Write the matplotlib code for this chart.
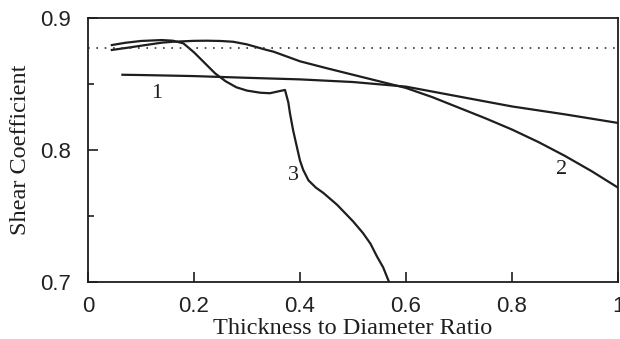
import numpy as np
import matplotlib.pyplot as plt
from matplotlib.ticker import MultipleLocator

# shear coefficient vs thickness/diameter for three cases
x1 = [0.065, 0.1, 0.2, 0.3, 0.4, 0.5, 0.6, 0.7, 0.8, 0.9, 1.0]
y1 = [0.857, 0.8568, 0.856, 0.8547, 0.8535, 0.8515, 0.848, 0.8405, 0.833, 0.827, 0.8205]

x2 = [0.045, 0.07, 0.1, 0.139, 0.16, 0.2, 0.224, 0.25, 0.274, 0.3, 0.337, 0.35,
      0.4, 0.45, 0.5, 0.55, 0.6, 0.65, 0.7, 0.75, 0.8, 0.85, 0.9, 0.95, 1.0]
y2 = [0.8758, 0.8772, 0.8790, 0.8813, 0.882, 0.8827, 0.8828, 0.8826, 0.882,
      0.880, 0.8758, 0.8745, 0.8672, 0.862, 0.857, 0.852, 0.847, 0.840, 0.832,
      0.824, 0.8155, 0.806, 0.7955, 0.784, 0.7715]

x3 = [0.045, 0.07, 0.1, 0.139, 0.16, 0.18, 0.2, 0.22, 0.24, 0.26, 0.28, 0.3,
      0.325, 0.343, 0.36, 0.3717, 0.378, 0.381, 0.387, 0.394, 0.4, 0.406,
      0.416, 0.43, 0.444, 0.457, 0.47, 0.482, 0.5, 0.519, 0.533, 0.545,
      0.557, 0.568]
y3 = [0.8795, 0.8812, 0.8826, 0.8833, 0.8828, 0.8808, 0.874, 0.866, 0.858,
      0.852, 0.8475, 0.845, 0.8434, 0.843, 0.8445, 0.8455, 0.836, 0.828,
      0.815, 0.8025, 0.792, 0.785, 0.777, 0.7715, 0.7675, 0.763, 0.7585,
      0.7535, 0.746, 0.737, 0.729, 0.7195, 0.711, 0.700]

ref_level = 0.877

curve_labels = ['1', '2', '3']
label_x = [0.13, 0.894, 0.387]
label_y = [0.843, 0.785, 0.781]

serif = ['Liberation Serif', 'DejaVu Serif']
sans = ['Liberation Sans', 'DejaVu Sans']
ink = '#1e1e1e'

fig = plt.figure(figsize=(6.2, 3.39), dpi=100)
ax = fig.add_axes([0.1419, 0.1681, 0.8549, 0.7788])

lw = 1.6
ax.plot(x1, y1, color=ink, lw=lw, solid_joinstyle='round')
ax.plot(x2, y2, color=ink, lw=lw, solid_joinstyle='round')
ax.plot(x3, y3, color=ink, lw=lw, solid_joinstyle='round')
ax.axhline(ref_level, color='#333333', lw=1.2, ls=(0, (1, 4)))

for t, tx, ty in zip(curve_labels, label_x, label_y):
    ax.text(tx, ty, t, family=serif, fontsize=16, ha='center', va='center', color=ink)

ax.set_xlim(0, 1)
ax.set_ylim(0.7, 0.9)
ax.set_xticks([0, 0.2, 0.4, 0.6, 0.8, 1.0])
ax.set_xticklabels(['0', '0.2', '0.4', '0.6', '0.8', '1'])
ax.set_yticks([0.7, 0.8, 0.9])
ax.set_yticklabels(['0.7', '0.8', '0.9'])
ax.yaxis.set_minor_locator(MultipleLocator(0.05))

ax.tick_params(which='both', direction='in', top=False, right=False, color=ink, width=1.2)
ax.tick_params(which='major', length=7)
ax.tick_params(which='minor', length=4)
ax.tick_params(axis='x', pad=10)
ax.tick_params(axis='y', pad=12)
for lab in ax.get_xticklabels() + ax.get_yticklabels():
    lab.set_family(sans)
    lab.set_fontsize(16)
    lab.set_color('#222222')

for sp in ax.spines.values():
    sp.set_linewidth(1.3)
    sp.set_color(ink)

ax.set_xlabel('Thickness to Diameter Ratio', family=serif, fontsize=17.5, labelpad=1, color=ink)
ax.set_ylabel('Shear Coefficient', family=serif, fontsize=17.5, labelpad=7, color=ink)

fig.savefig('out.png', dpi=100)
